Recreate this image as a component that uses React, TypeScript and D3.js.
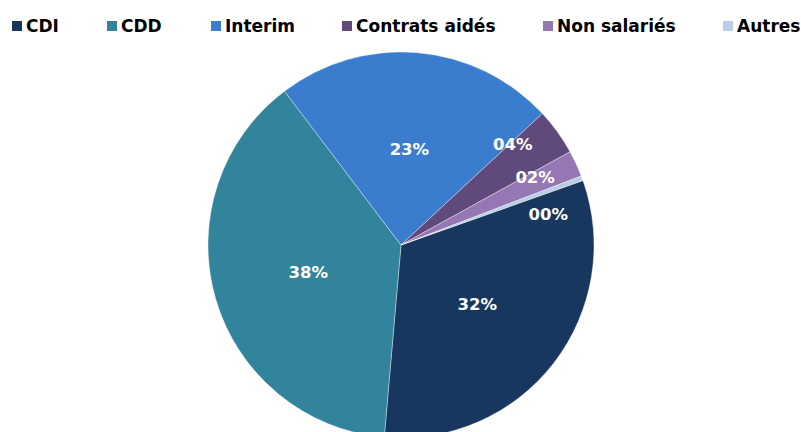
import React from "react";
import * as d3 from "d3";

const categories = ["CDI", "CDD", "Interim", "Contrats aidés", "Non salariés", "Autres"];
const values = [31.8, 38.3, 23.4, 3.9, 2.2, 0.4];
const colors = ["#17375e", "#31849b", "#3a7dce", "#604a7b", "#9477b3", "#b9cde5"];
const legendX = [12, 107, 211, 342, 543, 723];

const W = 801, H = 432;
const cx = 401, cy = 245, R = 193;
const startDeg = 70.5;

export default function App() {
  const total = d3.sum(values);
  const pie = d3.pie<number>().sort(null).value((d) => d)
    .startAngle((startDeg * Math.PI) / 180)
    .endAngle((startDeg * Math.PI) / 180 + 2 * Math.PI);
  const arcs = pie(values);
  const arc = d3.arc<d3.PieArcDatum<number>>().innerRadius(0).outerRadius(R);
  const fmt = (v: number) => d3.format("02d")(Math.round((v / total) * 100)) + "%";

  // label positions
  const labels = arcs.map((a) => {
    const mid = (a.startAngle + a.endAngle) / 2;
    const small = a.value / total < 0.05;
    return { mid, small, r: small ? R * 0.78 : R * 0.5 };
  });
  const smallIdx = labels.map((l, i) => (l.small ? i : -1)).filter((i) => i >= 0);
  if (smallIdx.length > 1) {
    const sep = (15 * Math.PI) / 180;
    const mean = d3.mean(smallIdx, (i) => labels[i].mid)!;
    smallIdx.forEach((i, k) => {
      labels[i].mid = mean + (k - (smallIdx.length - 1) / 2) * sep;
    });
  }

  return (
    <svg width={W} height={H} style={{ position: "absolute", left: 0, top: 0, background: "#fff" }}>
      <g transform={`translate(${cx},${cy})`}>
        {arcs.map((a, i) => (
          <path key={i} d={arc(a)!} fill={colors[i]} stroke="#ffffff" strokeWidth={0.6} strokeOpacity={0.6} />
        ))}
        {arcs.map((a, i) => {
          const l = labels[i];
          const x = Math.sin(l.mid) * l.r;
          const y = -Math.cos(l.mid) * l.r;
          return (
            <text key={i} x={x} y={y} dy="0.36em" textAnchor="middle" fill="#fff"
              fontFamily="DejaVu Sans" fontWeight="bold" fontSize={16.5}>
              {fmt(a.value)}
            </text>
          );
        })}
      </g>
      {categories.map((c, i) => (
        <g key={c} transform={`translate(${legendX[i]},0)`}>
          <rect x={0} y={21} width={10} height={10} fill={colors[i]} />
          <text x={14} y={32} fontFamily="DejaVu Sans" fontWeight="bold" fontSize={17} fill="#000">{c}</text>
        </g>
      ))}
    </svg>
  );
}
